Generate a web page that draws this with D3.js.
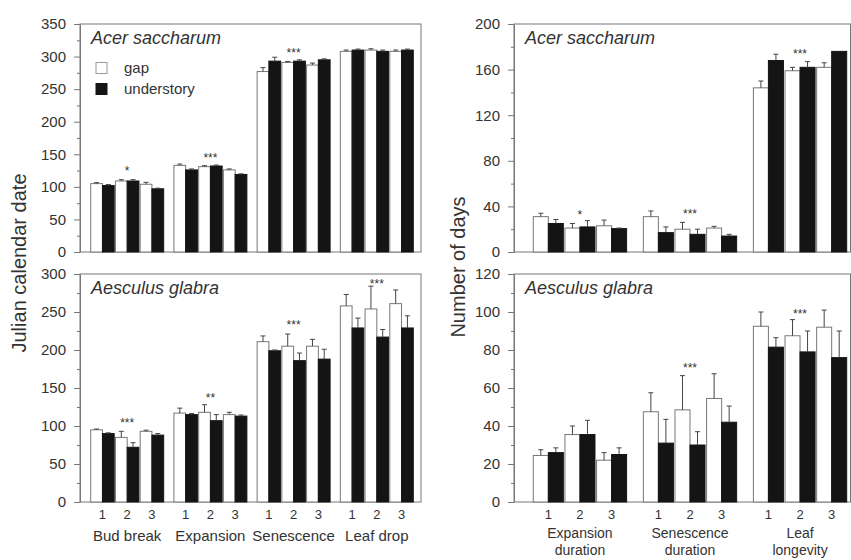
<!DOCTYPE html>
<html>
<head>
<meta charset="utf-8">
<script src="https://cdn.jsdelivr.net/npm/d3@7"></script>
<style>
  body { margin: 0; background: #fff; }
  svg { display: block; }
  text { font-family: "Liberation Sans", Arial, Helvetica, sans-serif; fill: #333; }
</style>
</head>
<body>
<svg id="chart" width="851" height="560"></svg>
<script>
// ---- categories ----
const years = ["1", "2", "3"];
const treatments = ["gap", "understory"];
const dateGroups = ["Bud break", "Expansion", "Senescence", "Leaf drop"];
const dayGroups = ["Expansion duration", "Senescence duration", "Leaf longevity"];

// ---- Acer saccharum: Julian calendar date (group x year order) ----
const acerDateGap      = [105, 109, 104, 133, 131, 126, 277, 291, 287, 308, 310, 308];
const acerDateGapErr   = [1.5, 2, 3, 2, 1.5, 1.5, 6, 1.5, 3, 2, 2, 2];
const acerDateUnder    = [102, 109, 97, 126, 132, 119, 293, 293, 295, 310, 308, 310];
const acerDateUnderErr = [1.5, 2, 1, 1.5, 1.5, 1, 6, 2, 1.5, 1.5, 2, 1.5];
const acerDateStars    = [["Bud break", "*", 129], ["Expansion", "***", 149], ["Senescence", "***", 310]];

// ---- Aesculus glabra: Julian calendar date ----
const aescDateGap      = [95, 85, 93, 117, 118, 115, 211, 205, 205, 258, 254, 261];
const aescDateGapErr   = [1, 8, 1.5, 6.5, 10, 3, 7.5, 16, 9, 15, 30, 18];
const aescDateUnder    = [90, 72, 88, 115, 107, 113, 199, 186, 188, 229, 217, 229];
const aescDateUnderErr = [1, 6, 2, 1.5, 8, 1.5, 1, 10, 13, 13, 10, 16];
const aescDateStars    = [["Bud break", "***", 108], ["Expansion", "**", 141], ["Senescence", "***", 237], ["Leaf drop", "***", 291]];

// ---- Acer saccharum: number of days ----
const acerDaysGap      = [31, 21, 23, 31, 20, 21, 144, 159, 162];
const acerDaysGapErr   = [3, 4, 5, 5, 6, 1.5, 6, 3, 4];
const acerDaysUnder    = [25, 22, 20.5, 17, 15.5, 14, 168, 162, 176];
const acerDaysUnderErr = [3.5, 5.5, 0.5, 5, 4.5, 1.5, 5.5, 5, 0];
const acerDaysStars    = [["Expansion duration", "*", 35], ["Senescence duration", "***", 36], ["Leaf longevity", "***", 176]];

// ---- Aesculus glabra: number of days ----
const aescDaysGap      = [24.5, 35.5, 22, 47.5, 48.5, 54.5, 92.5, 87.5, 92];
const aescDaysGapErr   = [3, 4.5, 4, 10, 18, 13, 7.5, 8.5, 9];
const aescDaysUnder    = [26, 35.5, 25, 31, 30, 42, 81.5, 79, 76];
const aescDaysUnderErr = [2.5, 7.5, 3.5, 12.5, 7, 8.5, 5, 11, 14];
const aescDaysStars    = [["Senescence duration", "***", 72], ["Leaf longevity", "***", 100.5]];

// ---- axis tick values ----
const dateTicksTop = d3.range(0, 351, 50);
const dateTicksBottom = d3.range(0, 301, 50);
const daysTicksTop = d3.range(0, 201, 40);
const daysTicksBottom = d3.range(0, 121, 20);

const svg = d3.select("#chart");

const panels = [
  { title: "Acer saccharum", groups: dateGroups, gap: acerDateGap, gapErr: acerDateGapErr,
    under: acerDateUnder, underErr: acerDateUnderErr, stars: acerDateStars,
    ticks: dateTicksTop, minorStep: 25,
    frameX: [80, 421], frameY: [24, 252], barX: [90.7, 413.3], groupPad: 0.123,
    xLabels: false, wrap: false, legend: true },
  { title: "Aesculus glabra", groups: dateGroups, gap: aescDateGap, gapErr: aescDateGapErr,
    under: aescDateUnder, underErr: aescDateUnderErr, stars: aescDateStars,
    ticks: dateTicksBottom, minorStep: 25,
    frameX: [80, 421], frameY: [274, 502], barX: [90.7, 413.3], groupPad: 0.123,
    xLabels: true, wrap: false, legend: false },
  { title: "Acer saccharum", groups: dayGroups, gap: acerDaysGap, gapErr: acerDaysGapErr,
    under: acerDaysUnder, underErr: acerDaysUnderErr, stars: acerDaysStars,
    ticks: daysTicksTop, minorStep: 20,
    frameX: [514, 850.5], frameY: [24, 252], barX: [533.3, 846.7], groupPad: 0.152,
    xLabels: false, wrap: true, legend: false },
  { title: "Aesculus glabra", groups: dayGroups, gap: aescDaysGap, gapErr: aescDaysGapErr,
    under: aescDaysUnder, underErr: aescDaysUnderErr, stars: aescDaysStars,
    ticks: daysTicksBottom, minorStep: 10,
    frameX: [514, 850.5], frameY: [274, 502], barX: [533.3, 846.7], groupPad: 0.152,
    xLabels: true, wrap: true, legend: false }
];

function drawPanel(p) {
  const g = svg.append("g");
  const yMax = p.ticks[p.ticks.length - 1];
  const y = d3.scaleLinear().domain([0, yMax]).range([p.frameY[1], p.frameY[0]]);
  const xg = d3.scaleBand().domain(p.groups).range(p.barX).paddingInner(p.groupPad).paddingOuter(0);
  const xy = d3.scaleBand().domain(years).range([0, xg.bandwidth()]).paddingInner(0.05);
  const xt = d3.scaleBand().domain(treatments).range([0, xy.bandwidth()]);

  // flatten values into records
  const rows = [];
  p.groups.forEach((grp, gi) => {
    years.forEach((yr, yi) => {
      const i = gi * years.length + yi;
      rows.push({ grp, yr, t: "gap", v: p.gap[i], e: p.gapErr[i] });
      rows.push({ grp, yr, t: "understory", v: p.under[i], e: p.underErr[i] });
    });
  });
  const bx = d => xg(d.grp) + xy(d.yr) + xt(d.t);

  // frame
  g.append("rect")
    .attr("x", p.frameX[0]).attr("y", p.frameY[0])
    .attr("width", p.frameX[1] - p.frameX[0]).attr("height", p.frameY[1] - p.frameY[0])
    .attr("fill", "none").attr("stroke", "#777").attr("stroke-width", 1);

  // minor ticks
  const minor = d3.range(p.minorStep, yMax, p.minorStep).filter(v => !p.ticks.includes(v));
  g.append("g").attr("transform", `translate(${p.frameX[0]},0)`)
    .call(d3.axisLeft(y).tickValues(minor).tickSize(3).tickFormat(""))
    .call(a => a.select(".domain").remove())
    .call(a => a.selectAll("line").attr("stroke", "#777"));

  // major axis
  g.append("g").attr("transform", `translate(${p.frameX[0]},0)`)
    .call(d3.axisLeft(y).tickValues(p.ticks).tickSize(6).tickPadding(8).tickSizeOuter(0))
    .call(a => a.select(".domain").attr("stroke", "#777"))
    .call(a => a.selectAll("line").attr("stroke", "#777"))
    .call(a => a.selectAll("text").attr("font-size", 15).attr("fill", "#333")
      .style("font-family", "'Liberation Sans', Arial, sans-serif"));

  // bars
  g.append("g").selectAll("rect").data(rows).join("rect")
    .attr("x", bx)
    .attr("y", d => y(d.v))
    .attr("width", xt.bandwidth())
    .attr("height", d => y(0) - y(d.v))
    .attr("fill", d => d.t === "gap" ? "#fff" : "#141414")
    .attr("stroke", d => d.t === "gap" ? "#777" : "#141414")
    .attr("stroke-width", 1);

  // one-sided error bars
  const eb = g.append("g").attr("stroke", "#444").attr("stroke-width", 1);
  rows.filter(d => d.e > 0).forEach(d => {
    const cx = bx(d) + xt.bandwidth() / 2;
    eb.append("line").attr("x1", cx).attr("x2", cx).attr("y1", y(d.v)).attr("y2", y(d.v + d.e));
    eb.append("line").attr("x1", cx - 2.5).attr("x2", cx + 2.5).attr("y1", y(d.v + d.e)).attr("y2", y(d.v + d.e));
  });

  // significance markers above the second year of each group
  g.append("g").selectAll("text").data(p.stars).join("text")
    .attr("x", d => xg(d[0]) + xy("2") + xy.bandwidth() / 2)
    .attr("y", d => y(d[2]) + 7)
    .attr("text-anchor", "middle")
    .attr("font-size", 12)
    .attr("fill", "#555")
    .text(d => d[1]);

  // species title
  g.append("text")
    .attr("x", p.frameX[0] + 11).attr("y", p.frameY[0] + 20)
    .attr("font-size", 18).attr("font-style", "italic")
    .text(p.title);

  // year and group labels
  if (p.xLabels) {
    const yrs = [];
    p.groups.forEach(grp => years.forEach(yr => yrs.push({ grp, yr })));
    g.append("g").selectAll("text").data(yrs).join("text")
      .attr("x", d => xg(d.grp) + xy(d.yr) + xy.bandwidth() / 2)
      .attr("y", p.frameY[1] + 17)
      .attr("text-anchor", "middle").attr("font-size", 13)
      .text(d => d.yr);
    const gl = g.append("g").selectAll("text").data(p.groups).join("text")
      .attr("x", d => xg(d) + xg.bandwidth() / 2)
      .attr("y", p.frameY[1] + (p.wrap ? 36 : 39))
      .attr("text-anchor", "middle").attr("font-size", p.wrap ? 14 : 15);
    if (p.wrap) {
      gl.each(function (d) {
        const words = d.split(" ");
        d3.select(this).selectAll("tspan").data(words).join("tspan")
          .attr("x", xg(d) + xg.bandwidth() / 2)
          .attr("dy", (w, i) => i === 0 ? 0 : 17)
          .text(w => w);
      });
    } else {
      gl.text(d => d);
    }
  }

  // legend
  if (p.legend) {
    const lg = g.append("g");
    treatments.forEach((t, i) => {
      lg.append("rect")
        .attr("x", 96).attr("y", 62.5 + i * 21).attr("width", 11).attr("height", 11)
        .attr("fill", t === "gap" ? "#fff" : "#141414")
        .attr("stroke", t === "gap" ? "#999" : "#141414");
      lg.append("text").attr("x", 124).attr("y", 73 + i * 21)
        .attr("font-size", 15).text(t);
    });
  }
}

panels.forEach(drawPanel);

// shared axis titles
svg.append("text")
  .attr("transform", "translate(26,263) rotate(-90)")
  .attr("text-anchor", "middle").attr("font-size", 20)
  .text("Julian calendar date");
svg.append("text")
  .attr("transform", "translate(465,267) rotate(-90)")
  .attr("text-anchor", "middle").attr("font-size", 20)
  .text("Number of days");
</script>
</body>
</html>
